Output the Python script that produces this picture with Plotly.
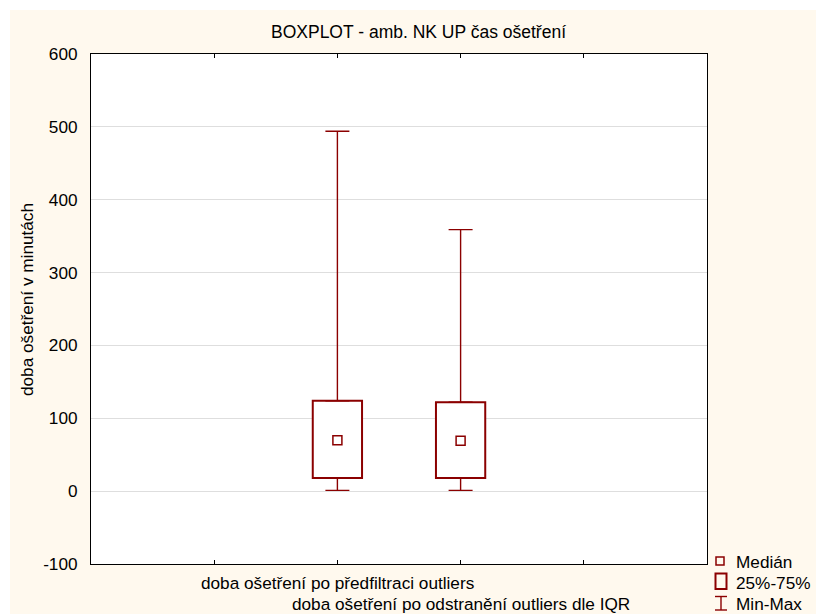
import plotly.graph_objects as go

# Summary statistics for the two groups of treatment times (minutes)
categories = [
    "doba ošetření po předfiltraci outliers",
    "doba ošetření po odstranění outliers dle IQR",
]
positions = [1, 2]
minimum = [1, 1]
q1 = [18, 18]
median = [70, 69]
q3 = [124, 122]
maximum = [494, 359]
y_ticks = [-100, 0, 100, 200, 300, 400, 500, 600]
y_tick_labels = ["-100", "0", "100", "200", "300", "400", "500", "600"]
legend_labels = ["Medián", "25%-75%", "Min-Max"]

W, H = 816, 614
L, R, T, B = 91, 109, 54, 50
PW, PH = W - L - R, H - T - B


def px(x):
    return (x - L) / PW


def py(y):
    return (H - B - y) / PH


RED = "#8B0000"
FONT = "Liberation Sans, Arial, sans-serif"
FS = 17.2

fig = go.Figure()

# 25%-75% boxes
fig.add_trace(go.Bar(
    x=positions, base=q1, y=[b - a for a, b in zip(q1, q3)], width=0.4,
    marker=dict(color="white", line=dict(color=RED, width=2)),
    showlegend=False, hoverinfo="skip",
))

# upper whiskers: Q3 -> max
fig.add_trace(go.Scatter(
    x=positions, y=q3, mode="markers",
    marker=dict(size=1, color="rgba(0,0,0,0)"),
    error_y=dict(type="data", symmetric=False,
                 array=[mx - b for b, mx in zip(q3, maximum)],
                 arrayminus=[0] * len(q3),
                 color=RED, thickness=1.4, width=12),
    showlegend=False, hoverinfo="skip",
))

# lower whiskers: min -> Q1
fig.add_trace(go.Scatter(
    x=positions, y=q1, mode="markers",
    marker=dict(size=1, color="rgba(0,0,0,0)"),
    error_y=dict(type="data", symmetric=False,
                 array=[0] * len(q1),
                 arrayminus=[a - mn for a, mn in zip(q1, minimum)],
                 color=RED, thickness=1.4, width=12),
    showlegend=False, hoverinfo="skip",
))

# medians
fig.add_trace(go.Scatter(
    x=positions, y=median, mode="markers",
    marker=dict(symbol="square-open", size=9, color=RED, line=dict(width=1.5, color=RED)),
    showlegend=False, hoverinfo="skip",
))

shapes = [
    # white strips around the cream panel
    dict(type="rect", xref="paper", yref="paper", x0=px(0), x1=px(W), y0=py(10), y1=py(0),
         fillcolor="white", line=dict(width=0), layer="below"),
    dict(type="rect", xref="paper", yref="paper", x0=px(0), x1=px(10), y0=py(H), y1=py(0),
         fillcolor="white", line=dict(width=0), layer="below"),
    # legend icons
    dict(type="rect", xref="paper", yref="paper", x0=px(716), x1=px(724), y0=py(565), y1=py(557),
         line=dict(color=RED, width=1.5), fillcolor="rgba(0,0,0,0)"),
    dict(type="rect", xref="paper", yref="paper", x0=px(715.5), x1=px(726.5), y0=py(589), y1=py(573.5),
         line=dict(color=RED, width=2), fillcolor="rgba(0,0,0,0)"),
    dict(type="line", xref="paper", yref="paper", x0=px(721), x1=px(721), y0=py(610), y1=py(596.5),
         line=dict(color=RED, width=1.4)),
    dict(type="line", xref="paper", yref="paper", x0=px(715), x1=px(727), y0=py(596.5), y1=py(596.5),
         line=dict(color=RED, width=1.4)),
    dict(type="line", xref="paper", yref="paper", x0=px(715), x1=px(727), y0=py(610), y1=py(610),
         line=dict(color=RED, width=1.4)),
]

annotations = [
    dict(text="BOXPLOT - amb. NK UP čas ošetření", xref="paper", yref="paper",
         x=px(418), y=py(32), xanchor="center", yanchor="middle", showarrow=False,
         font=dict(family=FONT, size=17.5, color="black")),
    dict(text="doba ošetření v minutách", xref="paper", yref="paper",
         x=px(27), y=py(300), xanchor="center", yanchor="middle", textangle=-90,
         showarrow=False, font=dict(family=FONT, size=FS, color="black")),
]
for pos, label, ypix in zip(positions, categories, [583, 604]):
    annotations.append(dict(text=label, xref="x", yref="paper", x=pos, y=py(ypix),
                            xanchor="center", yanchor="middle", showarrow=False,
                            font=dict(family=FONT, size=FS, color="black")))
for label, ypix in zip(legend_labels, [562, 583, 604]):
    annotations.append(dict(text=label, xref="paper", yref="paper", x=px(734), y=py(ypix),
                            xanchor="left", yanchor="middle", showarrow=False,
                            font=dict(family=FONT, size=FS, color="black")))

fig.update_layout(
    width=W, height=H,
    margin=dict(l=L, r=R, t=T, b=B, pad=0),
    paper_bgcolor="#FFF9EE", plot_bgcolor="white",
    font=dict(family=FONT, size=FS, color="black"),
    showlegend=False,
    shapes=shapes, annotations=annotations,
    xaxis=dict(range=[-1, 4], tickvals=[0, 1, 2, 3], ticks="inside", ticklen=4,
               tickcolor="black", showticklabels=False, showgrid=False, zeroline=False,
               showline=True, mirror="ticks", linecolor="black", linewidth=1, fixedrange=True),
    yaxis=dict(range=[-100, 600], tickvals=y_ticks, ticktext=y_tick_labels, ticks="",
               showgrid=True, gridcolor="#dedede", gridwidth=1, zeroline=False,
               showline=True, mirror=True, linecolor="black", linewidth=1,
               ticklabelstandoff=9,
               tickfont=dict(family=FONT, size=FS, color="black"), fixedrange=True),
)

fig.write_html("out.html", config={"displayModeBar": False})
